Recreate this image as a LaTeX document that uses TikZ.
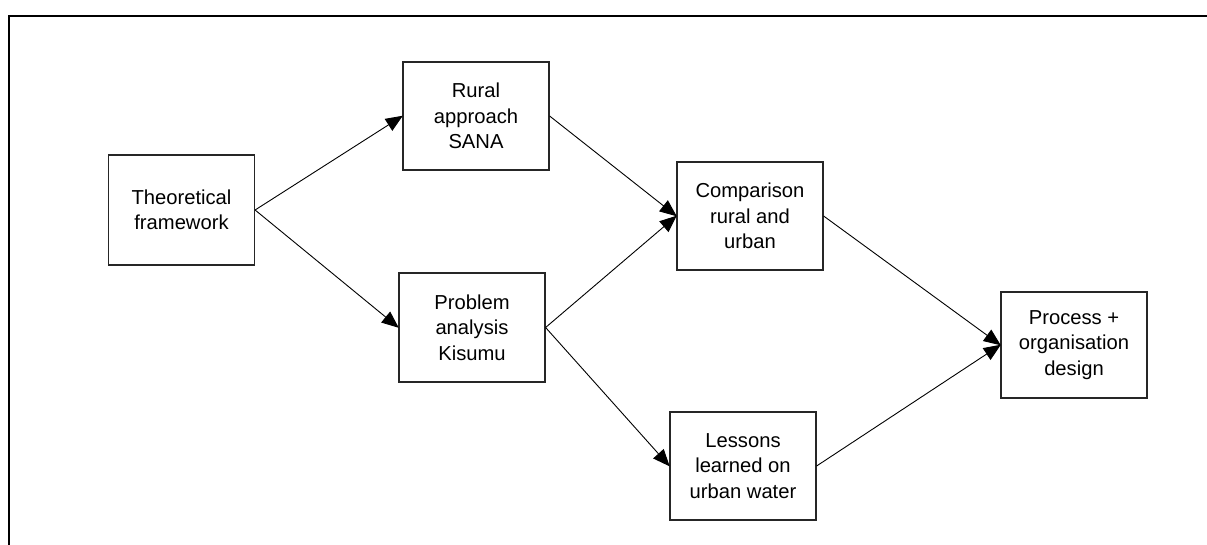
\documentclass[tikz,border=0pt]{standalone}
\usepackage{fontspec}
\setmainfont{Liberation Sans}
\usetikzlibrary{arrows.meta}
\begin{document}
\begin{tikzpicture}[x=1pt,y=-1pt,
  stagebox/.style={draw=black!85,line width=1.2pt,minimum width=146pt,
    inner sep=0pt,align=center,
    font=\fontsize{20.2}{25.5}\selectfont},
  flow/.style={draw=black,line width=0.9pt,
    -{Triangle[length=17pt,width=14pt]},shorten >=-0.5pt},
  frameline/.style={draw=black,line width=2.8pt}]
\useasboundingbox (0,0) rectangle (1207,545);
% page frame: top rule and left rule
\coordinate (ftl) at (9,16);
\coordinate (ftr) at (1207,16);
\coordinate (fbl) at (9,545);
\draw[frameline] (ftr) -- (ftl) -- (fbl);
% stages
\node[stagebox,minimum height=110pt] (theory) at (181.5,210) {Theoretical\\framework};
\node[stagebox,minimum height=108pt] (rural) at (476,116) {Rural\\approach\\SANA};
\node[stagebox,minimum height=109pt] (problem) at (472,327.5) {Problem\\analysis\\Kisumu};
\node[stagebox,minimum height=108pt] (compare) at (750,216) {Comparison\\rural and\\urban};
\node[stagebox,minimum height=108pt] (lessons) at (743,466) {Lessons\\learned on\\urban water};
\node[stagebox,minimum height=106pt] (design) at (1074,345) {Process +\\organisation\\design};
% connections
\draw[flow] (theory.east) -- (rural.west);
\draw[flow] (theory.east) -- (problem.west);
\draw[flow] (rural.east) -- (compare.west);
\draw[flow] (problem.east) -- (compare.west);
\draw[flow] (problem.east) -- (lessons.west);
\draw[flow] (compare.east) -- (design.west);
\draw[flow] (lessons.east) -- (design.west);
\end{tikzpicture}
\end{document}
